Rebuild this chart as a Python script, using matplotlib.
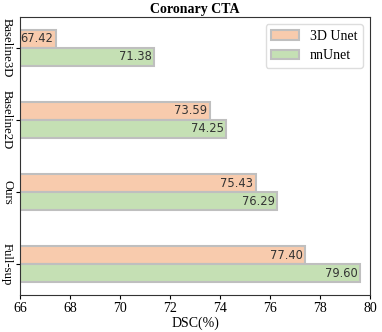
import matplotlib
matplotlib.use("Agg")
import matplotlib.pyplot as plt
import numpy as np

categories = ["Baseline3D", "Baseline2D", "Ours", "Full-sup"]
unet3d = [67.42, 73.59, 75.43, 77.40]
nnunet = [71.38, 74.25, 76.29, 79.60]
series_names = ["3D Unet", "nnUnet"]
xticks = [66, 68, 70, 72, 74, 76, 78, 80]

serif = "Liberation Serif"
fig = plt.figure(figsize=(3.82, 3.32), dpi=100)
ax = fig.add_axes([20/382, 37/332, 350/382, 278/332])

y = np.arange(len(categories))
h = 0.25
b1 = ax.barh(y - h/2, [v - 66 for v in unet3d], left=66, height=h, color="#F8CBAD",
             edgecolor="#BFBFBF", linewidth=1.5, label=series_names[0])
b2 = ax.barh(y + h/2, [v - 66 for v in nnunet], left=66, height=h, color="#C5E0B4",
             edgecolor="#BFBFBF", linewidth=1.5, label=series_names[1])
for bars, vals in ((b1, unet3d), (b2, nnunet)):
    for rect, v in zip(bars, vals):
        ax.text(v - 0.1, rect.get_y() + rect.get_height()/2, f"{v:.2f}",
                ha="right", va="center", fontsize=8.3, color="#333333",
                family="DejaVu Sans")

ax.set_xlim(66, 80)
ax.set_xticks(xticks)
ax.set_yticks(y)
ax.set_yticklabels(categories, rotation=270, va="center", fontfamily=serif, fontsize=9.2)
ax.invert_yaxis()
for lab in ax.get_xticklabels():
    lab.set_fontfamily(serif)
    lab.set_fontsize(10)
ax.tick_params(axis="y", pad=2, length=3)
ax.tick_params(axis="x", pad=2, length=3)
ax.set_xlabel("DSC(%)", fontfamily=serif, fontsize=10, labelpad=1)
ax.set_title("Coronary CTA", fontfamily=serif, fontweight="bold", fontsize=10, pad=3)
for s in ax.spines.values():
    s.set_color("#333333")
    s.set_linewidth(0.8)
ax.legend(loc="upper right", prop={"family": serif, "size": 10}, framealpha=1,
          edgecolor="#DDDDDD")
fig.savefig("out.png", dpi=100)
